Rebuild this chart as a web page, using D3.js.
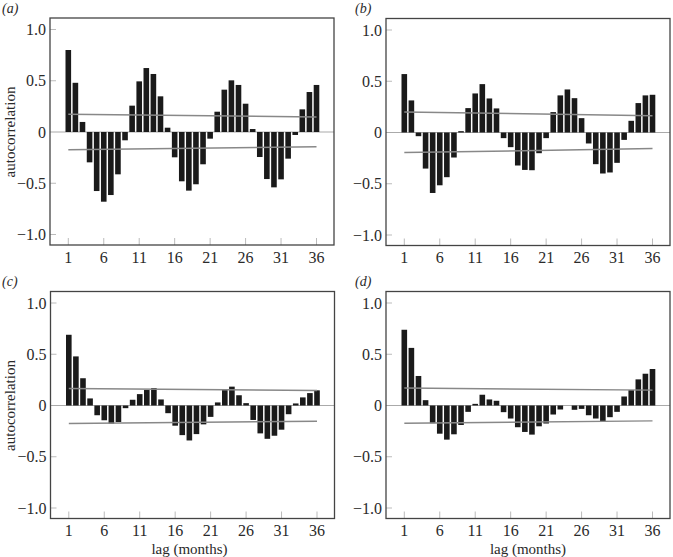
<!DOCTYPE html>
<html><head><meta charset="utf-8">
<script src="https://cdn.jsdelivr.net/npm/d3@7"></script>
<style>body{margin:0;background:#fff}svg{display:block}</style>
</head><body>
<svg id="c" width="673" height="557"></svg>
<script>
const lags = d3.range(1, 37);
const xTicks = [1, 6, 11, 16, 21, 26, 31, 36];
const yTicks = [-1.0, -0.5, 0, 0.5, 1.0];
const panelLabels = ["(a)", "(b)", "(c)", "(d)"];

const acfA = [0.80,0.48,0.098,-0.296,-0.576,-0.68,-0.615,-0.413,-0.081,0.257,0.494,0.624,0.566,0.348,0.042,-0.247,-0.481,-0.572,-0.51,-0.315,-0.065,0.198,0.413,0.504,0.459,0.276,0.029,-0.244,-0.459,-0.54,-0.462,-0.26,-0.029,0.221,0.39,0.459];
const acfB = [0.57,0.313,-0.036,-0.352,-0.59,-0.515,-0.436,-0.244,0.013,0.238,0.381,0.472,0.332,0.235,-0.055,-0.143,-0.322,-0.365,-0.368,-0.202,-0.055,0.199,0.362,0.42,0.335,0.14,-0.107,-0.309,-0.40,-0.39,-0.296,-0.072,0.114,0.287,0.362,0.368];
const acfC = [0.69,0.479,0.266,0.069,-0.095,-0.144,-0.177,-0.161,-0.026,0.056,0.111,0.151,0.17,0.059,-0.075,-0.197,-0.289,-0.341,-0.279,-0.184,-0.111,0.03,0.151,0.184,0.10,0.023,-0.141,-0.272,-0.325,-0.295,-0.236,-0.085,0.02,0.079,0.121,0.148];
const acfD = [0.739,0.562,0.288,0.052,-0.173,-0.275,-0.333,-0.281,-0.19,-0.062,0.016,0.105,0.059,0.046,-0.065,-0.127,-0.212,-0.258,-0.284,-0.203,-0.176,-0.088,-0.039,0.0,-0.042,-0.033,-0.095,-0.127,-0.154,-0.114,-0.062,0.088,0.15,0.255,0.31,0.356];

// significance bounds at lag 1 and lag 36 (upper, lower)
const boundsA = [[0.173,0.146],[-0.173,-0.143]];
const boundsB = [[0.200,0.163],[-0.196,-0.157]];
const boundsC = [[0.166,0.147],[-0.176,-0.153]];
const boundsD = [[0.170,0.150],[-0.174,-0.150]];

const series = [acfA, acfB, acfC, acfD];
const bounds = [boundsA, boundsB, boundsC, boundsD];

const FONT = "'Liberation Serif', 'Times New Roman', Times, serif";
const TXT = "#2a2a2a";

const svg = d3.select("#c");
const origins = [[50, 18], [386, 18.5], [50.5, 291.5], [386, 291.5]];
const W = 284, H = 227;

function txt(sel) {
  return sel.attr("font-family", FONT).attr("fill", TXT);
}

series.forEach((vals, i) => {
  const [ox, oy] = origins[i];
  const g = svg.append("g").attr("transform", `translate(${ox},${oy})`);
  const x = d3.scaleLinear().domain([1, 36]).range([18.3, 266.5]);
  const y = d3.scaleLinear().domain([-1, 1]).range([216.5, 11.5]);
  const bw = 5.6;

  g.selectAll(".yt").data(yTicks.filter(d => d !== 0)).join("line")
    .attr("x1", 0).attr("x2", 6).attr("y1", d => y(d)).attr("y2", d => y(d))
    .attr("stroke", "#bbb").attr("stroke-width", 1);
  g.selectAll(".xt").data(xTicks).join("line")
    .attr("x1", d => x(d)).attr("x2", d => x(d)).attr("y1", H).attr("y2", H - 7)
    .attr("stroke", "#bbb").attr("stroke-width", 1);

  g.append("line").attr("x1", 0).attr("x2", W).attr("y1", y(0)).attr("y2", y(0))
    .attr("stroke", "#aaa").attr("stroke-width", 1.2);

  g.selectAll(".bar").data(vals).join("rect")
    .attr("x", (d, j) => x(lags[j]) - bw / 2)
    .attr("width", bw)
    .attr("y", d => Math.min(y(d), y(0)))
    .attr("height", d => Math.abs(y(d) - y(0)))
    .attr("fill", "#1a1a1a");

  bounds[i].forEach(b => {
    g.append("line")
      .attr("x1", x(1)).attr("x2", x(36))
      .attr("y1", y(b[0])).attr("y2", y(b[1]))
      .attr("stroke", "#888").attr("stroke-width", 1.5);
  });

  g.append("rect").attr("x", 0).attr("y", 0).attr("width", W).attr("height", H)
    .attr("fill", "none").attr("stroke", "#444").attr("stroke-width", 1.3);

  txt(g.selectAll(".yl").data(yTicks).join("text"))
    .attr("x", -4).attr("y", d => y(d) + 5.5)
    .attr("text-anchor", "end").attr("font-size", 16)
    .text(d => d === 0 ? "0" : (d < 0 ? "\u2212" + Math.abs(d).toFixed(1) : d.toFixed(1)));

  txt(g.selectAll(".xl").data(xTicks).join("text"))
    .attr("x", d => x(d)).attr("y", H + 17.5)
    .attr("text-anchor", "middle").attr("font-size", 16)
    .text(d => d);

  txt(svg.append("text"))
    .attr("x", i % 2 === 0 ? 2 : 355).attr("y", i < 2 ? 13 : 286)
    .attr("font-size", 14).attr("font-style", "italic")
    .text(panelLabels[i]);

  if (i % 2 === 0) {
    txt(svg.append("text"))
      .attr("transform", `translate(15,${oy + y(0)}) rotate(-90)`)
      .attr("text-anchor", "middle").attr("font-size", 15)
      .text("autocorrelation");
  }
  if (i >= 2) {
    txt(g.append("text")).attr("x", W / 2 + (i === 2 ? -3 : 0)).attr("y", H + 35)
      .attr("text-anchor", "middle").attr("font-size", 15)
      .text("lag (months)");
  }
});
</script>
</body></html>
